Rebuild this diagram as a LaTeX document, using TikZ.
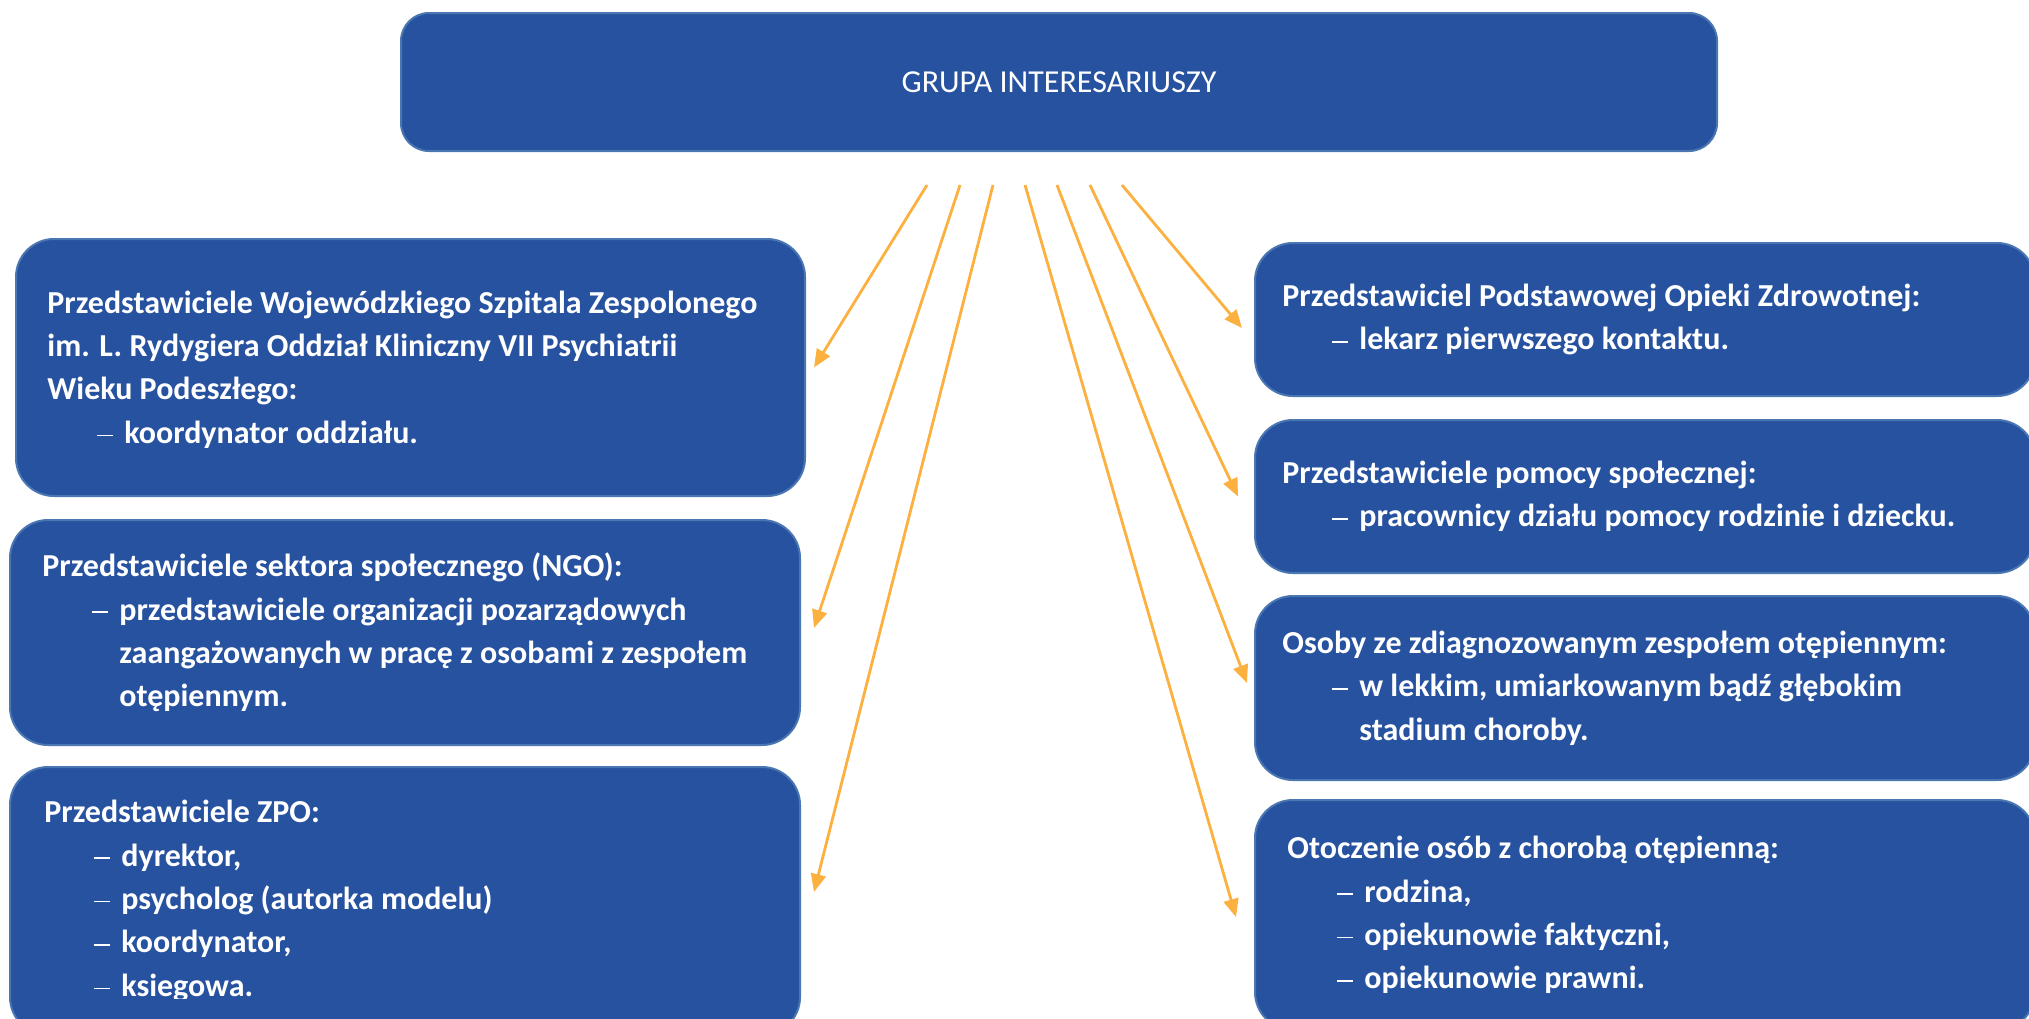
\documentclass[tikz,border=0pt]{standalone}
\usepackage{fontspec}
\setmainfont{Carlito}
\usetikzlibrary{arrows.meta,positioning}
\definecolor{sgblue}{HTML}{2752A0}
\definecolor{sgedge}{HTML}{4A76B2}
\definecolor{sgorange}{HTML}{FBB040}
\newcommand{\sgitem}[1]{\hspace*{25pt}\makebox[13.5pt][l]{\rule[3.6pt]{8pt}{0.75pt}}#1}
\newcommand{\sgcont}[1]{\hspace*{38.5pt}#1}

\begin{document}
\begin{tikzpicture}[
    x=0.5pt, y=-0.5pt,
    box/.style={rectangle, rounded corners=19pt, fill=sgblue, draw=sgedge,
                line width=1pt, inner sep=0pt},
    lbl/.style={anchor=west, inner sep=0pt, align=left, text=white,
                font=\fontsize{16}{21.7}\selectfont\bfseries},
    arr/.style={-{Triangle[length=9pt,width=7.5pt]}, sgorange, line width=1.4pt}
  ]

  % ---- Frame ----
  \useasboundingbox (0,0) rectangle (2029,1018);
  \clip (0,0) rectangle (2029,1018);

  % ---- Top box ----
  \node[box, rounded corners=14pt, minimum width=658pt, minimum height=69pt,
        text=white, font=\fontsize{16}{19}\selectfont]
    (grp) at (1059,82) {GRUPA INTERESARIUSZY};

  % ---- Left column ----
  \node[box, minimum width=394.5pt, minimum height=128.5pt] (l1) at (410.5,367.5) {};
  \node[lbl] (t1) at ([xshift=16pt,yshift=-1pt]l1.west)
    {Przedstawiciele Wojewódzkiego Szpitala Zespolonego\\
     im. L. Rydygiera Oddział Kliniczny VII Psychiatrii\\
     Wieku Podeszłego:\\
     \sgitem{koordynator oddziału.}};

  \node[box, minimum width=395pt, minimum height=112.5pt] (l2) at (405,632.5) {};
  \node[lbl] (t2) at ([xshift=16.5pt]l2.west)
    {Przedstawiciele sektora społecznego (NGO):\\
     \sgitem{przedstawiciele organizacji pozarządowych}\\
     \sgcont{zaangażowanych w pracę z osobami z zespołem}\\
     \sgcont{otępiennym.}};

  \node[box, minimum width=395pt, minimum height=134pt] (l3) at (405,901) {};
  \begin{scope}
    \clip (0,0) rectangle (2029,998);
    \node[lbl] (t3) at ([xshift=17.5pt]l3.west)
      {Przedstawiciele ZPO:\\
       \sgitem{dyrektor,}\\
       \sgitem{psycholog (autorka modelu)}\\
       \sgitem{koordynator,}\\
       \sgitem{ksiegowa.}};
  \end{scope}

  % ---- Right column ----
  \node[box, minimum width=390pt, minimum height=76.5pt] (r1) at (1645,319.5) {};
  \node[lbl] (t4) at ([xshift=14pt]r1.west)
    {Przedstawiciel Podstawowej Opieki Zdrowotnej:\\
     \sgitem{lekarz pierwszego kontaktu.}};

  \node[box, minimum width=390pt, minimum height=76.5pt] (r2) at (1645,496.5) {};
  \node[lbl] (t5) at ([xshift=14pt]r2.west)
    {Przedstawiciele pomocy społecznej:\\
     \sgitem{pracownicy działu pomocy rodzinie i dziecku.}};

  \node[box, minimum width=390pt, minimum height=92pt] (r3) at (1645,688) {};
  \node[lbl] (t6) at ([xshift=14pt]r3.west)
    {Osoby ze zdiagnozowanym zespołem otępiennym:\\
     \sgitem{w lekkim, umiarkowanym bądź głębokim}\\
     \sgcont{stadium choroby.}};

  \node[box, minimum width=390pt, minimum height=115pt] (r4) at (1645,915) {};
  \node[lbl] (t7) at ([xshift=16.5pt]r4.west)
    {Otoczenie osób z chorobą otępienną:\\
     \sgitem{rodzina,}\\
     \sgitem{opiekunowie faktyczni,}\\
     \sgitem{opiekunowie prawni.}};

  % ---- Arrows ----
  \foreach \i/\x in {1/927,2/960,3/993,4/1025,5/1057,6/1090,7/1122}
    \coordinate (s\i) at (\x,185);

  \draw[arr] (s1) -- ([xshift=4pt]l1.east);
  \draw[arr] (s2) -- ([xshift=6.5pt,yshift=2.25pt]l2.east);
  \draw[arr] (s3) -- ([xshift=6.5pt,yshift=4.5pt]l3.east);
  \draw[arr] (s4) -- ([xshift=-9pt,yshift=-1pt]r4.west);
  \draw[arr] (s5) -- ([xshift=-3.5pt,yshift=2.5pt]r3.west);
  \draw[arr] (s6) -- ([xshift=-8pt]r2.west);
  \draw[arr] (s7) -- ([xshift=-6pt,yshift=-4.25pt]r1.west);

\end{tikzpicture}
\end{document}
